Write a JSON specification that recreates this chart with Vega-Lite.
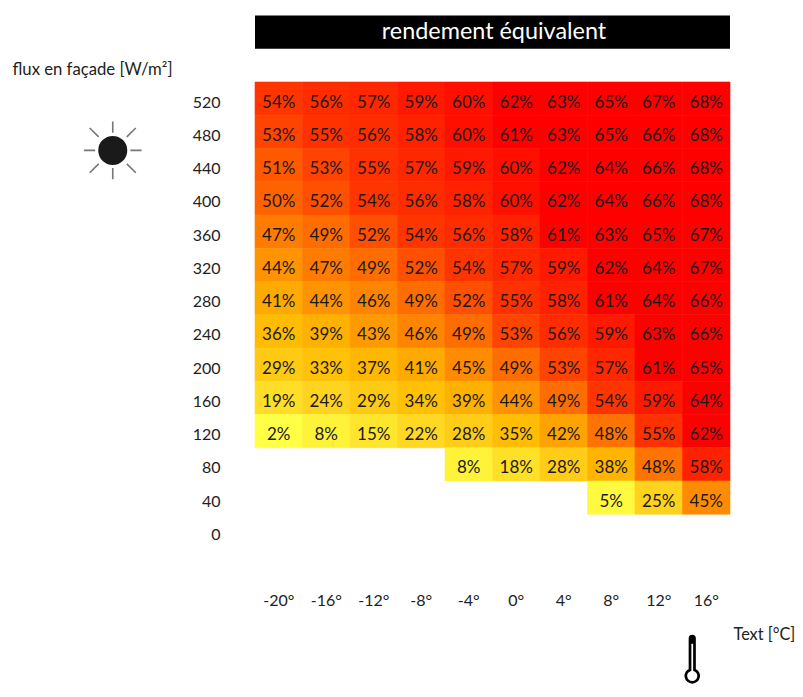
{"$schema":"https://vega.github.io/schema/vega-lite/v6.json","width":475,"height":532,"autosize":"none","padding":{"left":255,"top":15.5,"right":73,"bottom":149.5},"background":"white","config":{"view":{"stroke":null},"font":"Lato"},"datasets":{"cells":[
{"t":"-20°","f":"520","v":0.54},{"t":"-16°","f":"520","v":0.56},{"t":"-12°","f":"520","v":0.57},{"t":"-8°","f":"520","v":0.59},{"t":"-4°","f":"520","v":0.60},{"t":"0°","f":"520","v":0.62},{"t":"4°","f":"520","v":0.63},{"t":"8°","f":"520","v":0.65},{"t":"12°","f":"520","v":0.67},{"t":"16°","f":"520","v":0.68},
{"t":"-20°","f":"480","v":0.53},{"t":"-16°","f":"480","v":0.55},{"t":"-12°","f":"480","v":0.56},{"t":"-8°","f":"480","v":0.58},{"t":"-4°","f":"480","v":0.60},{"t":"0°","f":"480","v":0.61},{"t":"4°","f":"480","v":0.63},{"t":"8°","f":"480","v":0.65},{"t":"12°","f":"480","v":0.66},{"t":"16°","f":"480","v":0.68},
{"t":"-20°","f":"440","v":0.51},{"t":"-16°","f":"440","v":0.53},{"t":"-12°","f":"440","v":0.55},{"t":"-8°","f":"440","v":0.57},{"t":"-4°","f":"440","v":0.59},{"t":"0°","f":"440","v":0.60},{"t":"4°","f":"440","v":0.62},{"t":"8°","f":"440","v":0.64},{"t":"12°","f":"440","v":0.66},{"t":"16°","f":"440","v":0.68},
{"t":"-20°","f":"400","v":0.50},{"t":"-16°","f":"400","v":0.52},{"t":"-12°","f":"400","v":0.54},{"t":"-8°","f":"400","v":0.56},{"t":"-4°","f":"400","v":0.58},{"t":"0°","f":"400","v":0.60},{"t":"4°","f":"400","v":0.62},{"t":"8°","f":"400","v":0.64},{"t":"12°","f":"400","v":0.66},{"t":"16°","f":"400","v":0.68},
{"t":"-20°","f":"360","v":0.47},{"t":"-16°","f":"360","v":0.49},{"t":"-12°","f":"360","v":0.52},{"t":"-8°","f":"360","v":0.54},{"t":"-4°","f":"360","v":0.56},{"t":"0°","f":"360","v":0.58},{"t":"4°","f":"360","v":0.61},{"t":"8°","f":"360","v":0.63},{"t":"12°","f":"360","v":0.65},{"t":"16°","f":"360","v":0.67},
{"t":"-20°","f":"320","v":0.44},{"t":"-16°","f":"320","v":0.47},{"t":"-12°","f":"320","v":0.49},{"t":"-8°","f":"320","v":0.52},{"t":"-4°","f":"320","v":0.54},{"t":"0°","f":"320","v":0.57},{"t":"4°","f":"320","v":0.59},{"t":"8°","f":"320","v":0.62},{"t":"12°","f":"320","v":0.64},{"t":"16°","f":"320","v":0.67},
{"t":"-20°","f":"280","v":0.41},{"t":"-16°","f":"280","v":0.44},{"t":"-12°","f":"280","v":0.46},{"t":"-8°","f":"280","v":0.49},{"t":"-4°","f":"280","v":0.52},{"t":"0°","f":"280","v":0.55},{"t":"4°","f":"280","v":0.58},{"t":"8°","f":"280","v":0.61},{"t":"12°","f":"280","v":0.64},{"t":"16°","f":"280","v":0.66},
{"t":"-20°","f":"240","v":0.36},{"t":"-16°","f":"240","v":0.39},{"t":"-12°","f":"240","v":0.43},{"t":"-8°","f":"240","v":0.46},{"t":"-4°","f":"240","v":0.49},{"t":"0°","f":"240","v":0.53},{"t":"4°","f":"240","v":0.56},{"t":"8°","f":"240","v":0.59},{"t":"12°","f":"240","v":0.63},{"t":"16°","f":"240","v":0.66},
{"t":"-20°","f":"200","v":0.29},{"t":"-16°","f":"200","v":0.33},{"t":"-12°","f":"200","v":0.37},{"t":"-8°","f":"200","v":0.41},{"t":"-4°","f":"200","v":0.45},{"t":"0°","f":"200","v":0.49},{"t":"4°","f":"200","v":0.53},{"t":"8°","f":"200","v":0.57},{"t":"12°","f":"200","v":0.61},{"t":"16°","f":"200","v":0.65},
{"t":"-20°","f":"160","v":0.19},{"t":"-16°","f":"160","v":0.24},{"t":"-12°","f":"160","v":0.29},{"t":"-8°","f":"160","v":0.34},{"t":"-4°","f":"160","v":0.39},{"t":"0°","f":"160","v":0.44},{"t":"4°","f":"160","v":0.49},{"t":"8°","f":"160","v":0.54},{"t":"12°","f":"160","v":0.59},{"t":"16°","f":"160","v":0.64},
{"t":"-20°","f":"120","v":0.02},{"t":"-16°","f":"120","v":0.08},{"t":"-12°","f":"120","v":0.15},{"t":"-8°","f":"120","v":0.22},{"t":"-4°","f":"120","v":0.28},{"t":"0°","f":"120","v":0.35},{"t":"4°","f":"120","v":0.42},{"t":"8°","f":"120","v":0.48},{"t":"12°","f":"120","v":0.55},{"t":"16°","f":"120","v":0.62},
{"t":"-4°","f":"80","v":0.08},{"t":"0°","f":"80","v":0.18},{"t":"4°","f":"80","v":0.28},{"t":"8°","f":"80","v":0.38},{"t":"12°","f":"80","v":0.48},{"t":"16°","f":"80","v":0.58},
{"t":"8°","f":"40","v":0.05},{"t":"12°","f":"40","v":0.25},{"t":"16°","f":"40","v":0.45}
],"head":[{"label":"rendement équivalent"}],"sun":[{"icon":"sun"}],"thermo":[{"icon":"thermometre"}]},
"encoding":{
"x":{"field":"t","type":"nominal","scale":{"domain":["-20°","-16°","-12°","-8°","-4°","0°","4°","8°","12°","16°"],"paddingInner":0,"paddingOuter":0},"axis":{"title":"Text [°C]","titleFont":"Lato","titleFontSize":16.3,"titleFontWeight":"normal","titleColor":"#222","titleX":478,"titleY":86.5,"titleAlign":"left","titleBaseline":"middle","labelAngle":0,"labelFont":"Lato","labelFontSize":16,"labelColor":"#222","labelPadding":45,"ticks":false,"domain":false,"grid":false}},
"y":{"field":"f","type":"nominal","scale":{"domain":["titre","vide","520","480","440","400","360","320","280","240","200","160","120","80","40","0"],"paddingInner":0,"paddingOuter":0},"axis":{"values":["520","480","440","400","360","320","280","240","200","160","120","80","40","0"],"title":"flux en façade [W/m²]","titleFont":"Lato","titleFontSize":16.7,"titleFontWeight":"normal","titleColor":"#222","titleAngle":0,"titleX":-243,"titleY":53.5,"titleAlign":"left","titleBaseline":"middle","labelFont":"Lato","labelFontSize":16,"labelColor":"#222","labelPadding":35,"labelOffset":4,"ticks":false,"domain":false,"grid":false}}
},
"layer":[
{"data":{"name":"head"},"mark":{"type":"rect","color":"black"},"encoding":{"x":{"value":0},"x2":{"value":475},"y":{"datum":"titre"}}},
{"data":{"name":"head"},"mark":{"type":"text","color":"white","font":"Lato","fontSize":23.4},"encoding":{"x":{"value":239},"y":{"datum":"titre"},"text":{"field":"label"}}},
{"data":{"name":"cells"},"mark":{"type":"rect","strokeWidth":0.6},"encoding":{"color":{"field":"v","type":"quantitative","legend":null,"scale":{"type":"linear","clamp":true,"domain":[0.02,0.25,0.36,0.41,0.47,0.54,0.61],"range":["#ffff45","#ffd21e","#ffbc00","#ffaa00","#ff7c00","#ff3500","#ff0000"]}},"stroke":{"field":"v","type":"quantitative","legend":null,"scale":{"type":"linear","clamp":true,"domain":[0.02,0.25,0.36,0.41,0.47,0.54,0.61],"range":["#ffff45","#ffd21e","#ffbc00","#ffaa00","#ff7c00","#ff3500","#ff0000"]}}}},
{"data":{"name":"cells"},"mark":{"type":"text","font":"Lato","fontSize":17,"color":"#1a1a1a","dy":4},"encoding":{"text":{"field":"v","type":"quantitative","format":".0%"}}},
{"data":{"name":"sun"},"mark":{"type":"point","filled":true,"color":"#1a1a1a","size":841,"shape":"circle","opacity":1,"xOffset":-166,"yOffset":18.5},"encoding":{"x":{"datum":"-20°"},"y":{"datum":"480"}}},
{"data":{"name":"sun"},"mark":{"type":"point","filled":false,"color":"#777","strokeWidth":1.6,"opacity":1,"size":4096,"shape":"M0,-0.9L0,-0.55M0,0.55L0,0.9M-0.9,0L-0.55,0M0.55,0L0.9,0M0.44,-0.42L0.72,-0.7M-0.44,-0.42L-0.72,-0.7M0.44,0.42L0.72,0.7M-0.44,0.42L-0.72,0.7","xOffset":-166,"yOffset":18.5},"encoding":{"x":{"datum":"-20°"},"y":{"datum":"480"}}},
{"data":{"name":"thermo"},"mark":{"type":"point","filled":false,"color":"black","strokeWidth":2.7,"opacity":1,"size":4096,"shape":"M-0.07,0.47L-0.07,-0.52A0.07,0.07,0,0,1,0.07,-0.52L0.07,0.47A0.2,0.2,0,1,1,-0.07,0.47Z","xOffset":-14,"yOffset":124},"encoding":{"x":{"datum":"16°"},"y":{"datum":"0"}}},
{"data":{"name":"thermo"},"mark":{"type":"point","filled":true,"color":"black","opacity":1,"size":4096,"shape":"M-0.07,-0.35L-0.07,-0.52A0.07,0.07,0,0,1,0.07,-0.52L0.07,-0.35Z","xOffset":-14,"yOffset":124},"encoding":{"x":{"datum":"16°"},"y":{"datum":"0"}}}
]}
